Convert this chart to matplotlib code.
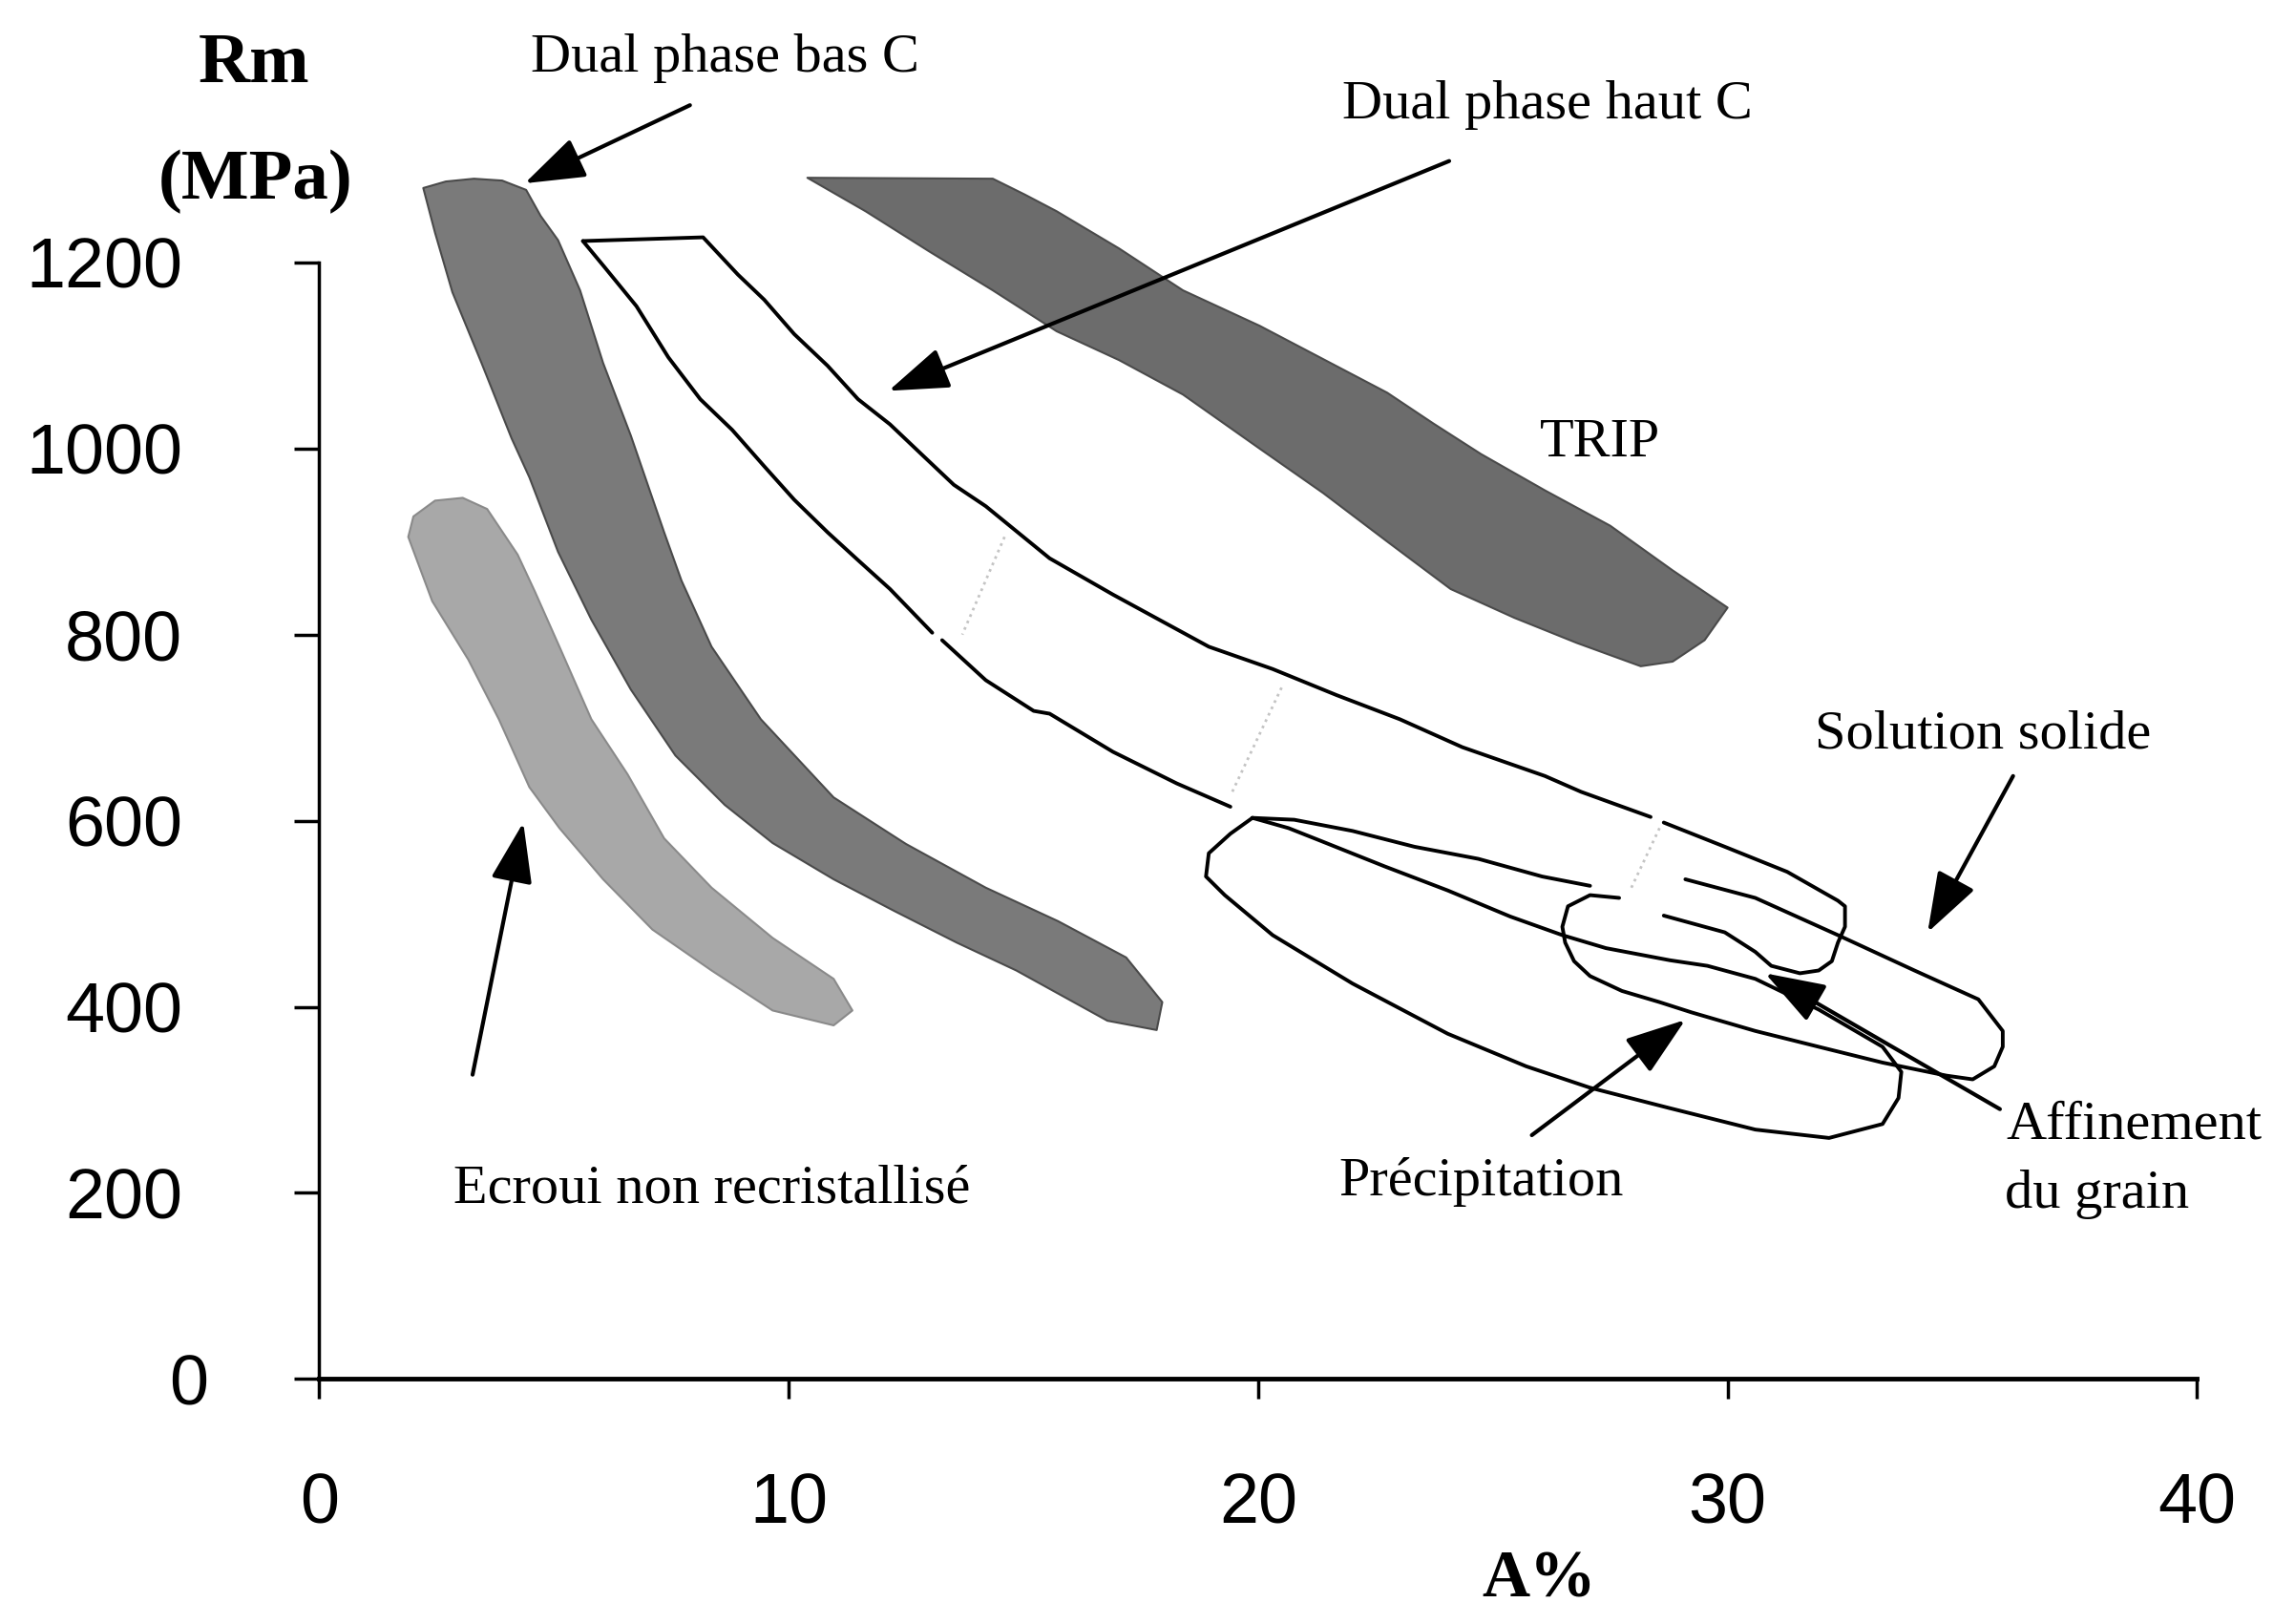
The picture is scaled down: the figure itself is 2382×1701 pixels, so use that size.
import numpy as np
import matplotlib
matplotlib.use('Agg')
import matplotlib.pyplot as plt
from matplotlib.patches import Polygon
from matplotlib.transforms import ScaledTranslation

plt.rcParams['font.family'] = ['Liberation Sans', 'DejaVu Sans']

# axes
x_ticks = [0, 10, 20, 30, 40]
y_ticks = [0, 200, 400, 600, 800, 1000, 1200]

# filled domains (A %, Rm MPa)
ecroui_x = [3.06, 2.47, 2.01, 1.90, 2.41, 3.18, 3.83, 4.48, 5.12, 6.05, 7.10, 8.36, 9.66, 10.96,
            11.36, 10.96, 9.66, 8.36, 7.35, 6.57, 5.80, 5.12, 4.60, 4.23, 3.58]
ecroui_y = [947, 944, 927, 905, 836, 773, 709, 636, 592, 537, 483, 439, 396, 380,
            396, 430, 474, 528, 581, 650, 709, 787, 846, 886, 935]

dpbas_x = [2.22, 2.47, 2.84, 3.46, 4.10, 4.48, 5.09, 5.80, 6.64, 7.59, 8.64, 9.66, 10.96, 12.25,
           13.58, 14.85, 16.79, 17.84, 17.96, 17.19, 15.74, 14.20, 12.50, 10.96, 9.41, 8.36,
           7.72, 7.35, 6.64, 6.05, 5.56, 5.09, 4.72, 4.41, 3.90, 3.30, 2.70]
dpbas_y = [1280, 1232, 1168, 1092, 1011, 969, 889, 816, 741, 670, 617, 576, 537, 503,
           469, 439, 385, 375, 405, 453, 492, 528, 575, 625, 709, 787,
           858, 910, 1014, 1092, 1170, 1224, 1250, 1278, 1288, 1290, 1287]

trip_x = [10.40, 14.35, 15.03, 15.71, 17.04, 18.40, 20.03, 21.39, 22.75, 23.73, 24.75, 26.11,
          27.50, 28.83, 30.00, 29.51, 28.83, 28.15, 26.79, 25.46, 24.10, 22.75, 21.39, 20.03,
          18.40, 17.04, 15.71, 14.35, 12.99, 11.64]
trip_y = [1291, 1290, 1273, 1255, 1215, 1170, 1132, 1096, 1060, 1027, 994, 955,
          917, 869, 829, 794, 771, 766, 791, 818, 849, 900, 952, 1000,
          1058, 1095, 1126, 1170, 1212, 1255]

# dual phase haut C outline, drawn in pieces (the scan has gaps)
dphc_upper_x = [5.62, 8.18, 8.92, 9.48, 10.12, 10.83, 11.48, 12.16, 12.87, 13.52, 14.20, 14.88,
                15.56, 16.91, 18.95, 20.31, 21.67, 23.02, 24.35, 26.11, 26.88, 28.36]
dphc_upper_y = [1223, 1227, 1187, 1160, 1123, 1089, 1053, 1026, 992, 961, 938, 910,
                882, 843, 787, 763, 735, 709, 679, 648, 631, 604]
dphc_end_x = [28.64, 29.94, 31.27, 32.35, 32.50, 32.50, 32.35, 32.22, 31.94, 31.54, 30.93, 30.59, 29.94, 28.64]
dphc_end_y = [598, 572, 545, 514, 508, 486, 469, 449, 439, 436, 444, 459, 480, 498]
dphc_mid_x = [27.07, 26.05, 24.69, 23.33, 22.01, 20.77, 19.88]
dphc_mid_y = [530, 540, 559, 572, 589, 601, 603]
dphc_lower_x = [19.41, 18.27, 16.91, 15.56, 15.22, 14.20, 13.27]
dphc_lower_y = [615, 640, 674, 715, 718, 751, 794]
dphc_left_x = [13.06, 12.16, 11.48, 10.83, 10.12, 9.48, 8.80, 8.12, 7.44, 6.76, 6.08, 5.62]
dphc_left_y = [802, 849, 880, 910, 945, 981, 1020, 1053, 1098, 1153, 1195, 1223]

# faint dotted separators across the band
sep_x = [(14.6, 13.7), (20.5, 19.45), (28.55, 27.95)]
sep_y = [(905, 800), (743, 631), (592, 528)]

precip_x = [19.88, 20.65, 21.30, 22.69, 24.04, 25.37, 26.48, 27.41, 28.77, 29.57, 30.59, 31.94,
            33.30, 33.70, 33.64, 33.30, 32.16, 30.59, 28.77, 27.07, 25.71, 24.04, 22.01, 20.31,
            19.29, 18.89, 18.95, 19.41, 19.88]
precip_y = [603, 592, 579, 551, 525, 497, 477, 463, 450, 444, 430, 397,
            357, 330, 302, 274, 259, 268, 291, 313, 336, 371, 425, 477,
            520, 540, 565, 586, 603]

sol_x = [29.10, 30.59, 32.35, 33.98, 35.34, 35.86, 35.86, 35.68, 35.22, 34.66, 33.98, 33.30,
         31.94, 30.59, 29.23, 28.55, 27.75, 27.07, 26.73, 26.54, 26.48, 26.60, 27.07, 27.69]
sol_y = [537, 517, 477, 439, 408, 374, 357, 336, 322, 326, 333, 340,
         357, 374, 394, 405, 417, 433, 449, 469, 486, 508, 520, 517]

# annotations
arrow_tail = [(7.90, 1369), (24.07, 1309), (3.27, 327), (25.83, 262), (36.08, 648), (35.80, 290)]
arrow_head = [(4.38, 1285), (12.13, 1062), (4.35, 598), (29.10, 386), (34.26, 480), (30.80, 436)]

labels = ['Dual phase bas C', 'Dual phase haut C', 'TRIP', 'Solution solide',
          'Précipitation', 'Ecroui non recristallisé']
label_x = [8.64, 26.17, 27.28, 35.43, 24.75, 8.36]
label_y = [1419, 1369, 1006, 692, 212, 204]

fig = plt.figure(figsize=(23.82, 17.01), dpi=100)
ax = fig.add_axes([0.1403, 0.1509, 0.8259, 0.6875])
ax.set_xlim(0, 40)
ax.set_ylim(0, 1200)

ax.add_patch(Polygon(np.column_stack([ecroui_x, ecroui_y]), closed=True, facecolor='#a8a8a8',
                     edgecolor='#8a8a8a', lw=1.5, joinstyle='round', clip_on=False))
ax.add_patch(Polygon(np.column_stack([dpbas_x, dpbas_y]), closed=True, facecolor='#7a7a7a',
                     edgecolor='#4a4a4a', lw=1.5, joinstyle='round', clip_on=False))
ax.add_patch(Polygon(np.column_stack([trip_x, trip_y]), closed=True, facecolor='#6c6c6c',
                     edgecolor='#4a4a4a', lw=1.5, joinstyle='round', clip_on=False))

line_kw = dict(color='black', lw=2.8, solid_capstyle='round', solid_joinstyle='round', clip_on=False)
for xs, ys in [(dphc_upper_x, dphc_upper_y), (dphc_end_x, dphc_end_y), (dphc_mid_x, dphc_mid_y),
               (dphc_lower_x, dphc_lower_y), (dphc_left_x, dphc_left_y),
               (precip_x, precip_y), (sol_x, sol_y)]:
    ax.plot(xs, ys, **line_kw)

for xs, ys in zip(sep_x, sep_y):
    ax.plot(xs, ys, color='#c4c4c4', lw=2, ls=':', clip_on=False)

for tail, head in zip(arrow_tail, arrow_head):
    ax.annotate('', xy=head, xytext=tail, annotation_clip=False,
                arrowprops=dict(arrowstyle='-|>,head_length=1.3,head_width=0.45', mutation_scale=30,
                                lw=3, color='black', shrinkA=0, shrinkB=0))

for s, x, y in zip(labels, label_x, label_y):
    ax.text(x, y, s, family='Liberation Serif', fontsize=42, ha='center', va='center')
ax.text(35.93, 273, 'Affinement', family='Liberation Serif', fontsize=42, ha='left', va='center')
ax.text(35.90, 198, 'du grain', family='Liberation Serif', fontsize=42, ha='left', va='center')

fig.text(0.1116, 0.960, 'Rm', family='Liberation Serif', weight='bold', fontsize=54, ha='center', va='center')
fig.text(0.1122, 0.888, '(MPa)', family='Liberation Serif', weight='bold', fontsize=54, ha='center', va='center')
fig.text(0.677, 0.027, 'A%', family='Liberation Serif', weight='bold', fontsize=50, ha='center', va='center')

for side in ['top', 'right']:
    ax.spines[side].set_visible(False)
ax.spines['left'].set_linewidth(2.5)
ax.spines['bottom'].set_linewidth(3.5)

ax.set_xticks(x_ticks)
ax.set_xticklabels([str(v) for v in x_ticks])
ax.set_yticks(y_ticks)
ax.set_yticklabels([str(v) for v in y_ticks])
ax.tick_params(axis='x', length=15, width=2.5, pad=55, labelsize=53)
ax.tick_params(axis='y', length=19, width=2.5, pad=84, labelsize=53)

# the "0" of the Rm axis sits a bit further right in the original
lab0 = ax.get_yticklabels()[0]
lab0.set_transform(lab0.get_transform() + ScaledTranslation(0.27, 0, fig.dpi_scale_trans))

fig.savefig('out.png', dpi=100)
